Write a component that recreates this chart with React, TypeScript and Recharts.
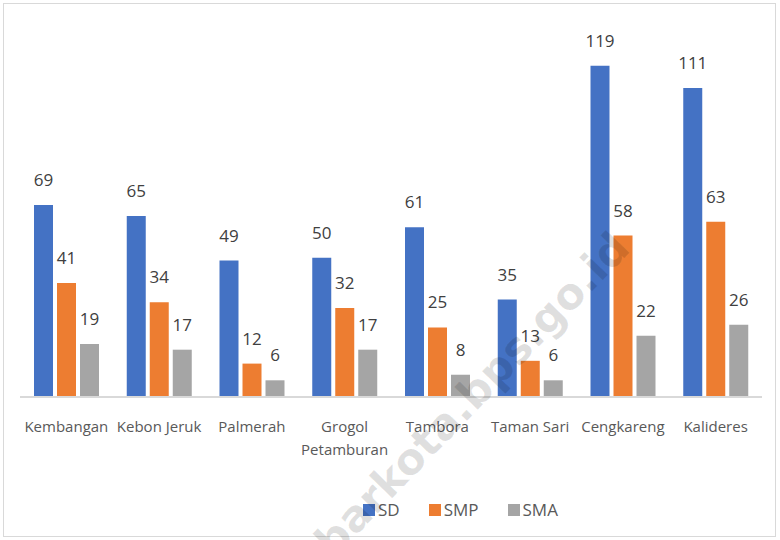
import { BarChart, Bar, XAxis, YAxis, LabelList } from 'recharts'

const kecamatan = [
	'Kembangan',
	'Kebon Jeruk',
	'Palmerah',
	'Grogol Petamburan',
	'Tambora',
	'Taman Sari',
	'Cengkareng',
	'Kalideres',
]
const sd = [69, 65, 49, 50, 61, 35, 119, 111]
const smp = [41, 34, 12, 32, 25, 13, 58, 63]
const sma = [19, 17, 6, 17, 8, 6, 22, 26]

const seriesNames = ['SD', 'SMP', 'SMA']
const seriesColors = ['#4472C4', '#ED7D31', '#A5A5A5']

const data = kecamatan.map((name, i) => ({
	name,
	SD: sd[i],
	SMP: smp[i],
	SMA: sma[i],
}))

const FONT = '"Open Sans", sans-serif'

const CategoryTick = ({ x, y, payload }: any) => {
	const words: string[] = payload.value.split(' ')
	// only the long name gets split in two lines, like the original
	const lines = payload.value.length > 12 ? words : [payload.value]
	return (
		<text
			x={x}
			y={y + 27}
			textAnchor='middle'
			fill='#595959'
			fontSize={15}
			fontFamily={FONT}
		>
			{lines.map((l, i) => (
				<tspan key={l} x={x} dy={i === 0 ? 0 : 23}>
					{l}
				</tspan>
			))}
		</text>
	)
}

const App = () => {
	return (
		<div
			style={{
				position: 'absolute',
				left: 0,
				top: 0,
				width: 780,
				height: 540,
				background: '#fff',
				fontFamily: FONT,
			}}
		>
			<div
				style={{
					position: 'absolute',
					left: 3,
					top: 3,
					width: 771,
					height: 532,
					border: '1px solid #d9d9d9',
				}}
			/>
			<BarChart
				width={780}
				height={540}
				data={data}
				margin={{ top: 63, right: 18, bottom: 83, left: 20 }}
				barSize={19}
				barGap={4}
			>
				<YAxis hide domain={[0, 120]} />
				<XAxis
					dataKey='name'
					interval={0}
					height={60}
					tickLine={false}
					axisLine={{ stroke: '#d9d9d9', strokeWidth: 2 }}
					tick={<CategoryTick />}
				/>
				{seriesNames.map((s, i) => (
					<Bar key={s} dataKey={s} fill={seriesColors[i]} isAnimationActive={false}>
						<LabelList
							dataKey={s}
							position='top'
							offset={19}
							fill='#404040'
							fontSize={17}
							fontFamily={FONT}
						/>
					</Bar>
				))}
			</BarChart>

			{/* legend */}
			<div
				style={{
					position: 'absolute',
					left: 363,
					top: 498,
					display: 'flex',
					alignItems: 'center',
					color: '#595959',
					fontSize: 17,
				}}
			>
				{seriesNames.map((s, i) => (
					<div key={s} style={{ display: 'flex', alignItems: 'center', marginRight: 29 }}>
						<span
							style={{
								display: 'inline-block',
								width: 12,
								height: 12,
								background: seriesColors[i],
								marginRight: 3,
							}}
						/>
						{s}
					</div>
				))}
			</div>

			{/* watermark */}
			<svg
				width={780}
				height={540}
				style={{ position: 'absolute', left: 0, top: 0, pointerEvents: 'none' }}
			>
				<text
					x={632}
					y={250}
					textAnchor='end'
					transform='rotate(-46 632 250)'
					fontSize={43}
					fontWeight='bold'
					fontFamily='"DejaVu Sans", sans-serif'
					fill='rgba(0,0,0,0.12)'
				>
					jakbarkota.bps.go.id
				</text>
			</svg>
		</div>
	)
}

export default App
